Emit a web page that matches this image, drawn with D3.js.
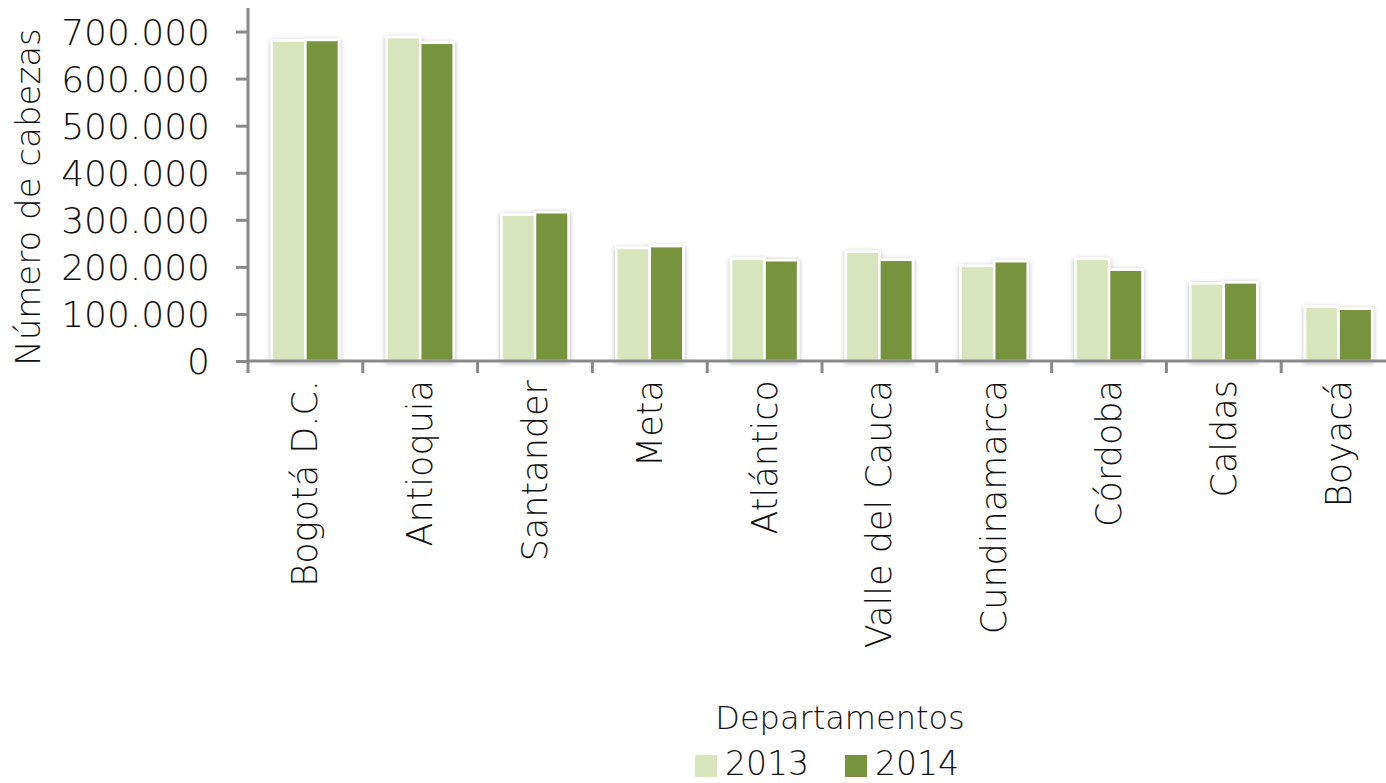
<!DOCTYPE html>
<html><head><meta charset="utf-8">
<script src="https://cdn.jsdelivr.net/npm/d3@7"></script>
<style>
body{margin:0;background:#fff;}
text{font-family:"DejaVu Sans",sans-serif;font-weight:200;fill:#111;}
</style></head>
<body>
<svg id="c" width="1386" height="783"></svg>
<script>
const categories = ["Bogotá D.C.","Antioquia","Santander","Meta","Atlántico","Valle del Cauca","Cundinamarca","Córdoba","Caldas","Boyacá"];
const seriesNames = ["2013","2014"];
const values2013 = [681000,688000,311000,240000,217000,232000,202000,217000,165000,115000];
const values2014 = [682000,676000,316000,244000,214000,215000,212000,194000,167000,111000];
const yTicks = [0,100000,200000,300000,400000,500000,600000,700000];
const colors = ["#d8e4bc","#77933c"];

(function(){
const svg = d3.select("#c");
const pLeft = 248, pRight = 1396, pTop = 8, pBottom = 361;
const x = d3.scaleBand().domain(categories).range([pLeft,pRight]);
const x1 = d3.scaleBand().domain(seriesNames).range([0,67]);
const y = d3.scaleLinear().domain([0,750000]).range([pBottom,pTop]);

const defs = svg.append("defs");
const f = defs.append("filter").attr("id","sh").attr("x","-30%").attr("y","-10%").attr("width","160%").attr("height","120%");
f.append("feDropShadow").attr("dx",0).attr("dy",1).attr("stdDeviation",2.5).attr("flood-color","#000").attr("flood-opacity",0.3);

const data = categories.map((c,i)=>({c, v:[values2013[i],values2014[i]]}));
const g = svg.append("g");
data.forEach(d=>{
  const gx = x(d.c) + (x.bandwidth()-67)/2;
  const grp = g.append("g").attr("filter","url(#sh)");
  seriesNames.forEach((s,j)=>{
    grp.append("rect")
      .attr("x", gx + x1(s)).attr("y", y(d.v[j]))
      .attr("width", x1.bandwidth()).attr("height", pBottom - y(d.v[j]))
      .attr("fill", colors[j]).attr("stroke","#fff").attr("stroke-width",2.5);
  });
});

// y axis
const yAxis = d3.axisLeft(y).tickValues(yTicks).tickSize(12).tickPadding(26)
  .tickFormat(d=> d===0 ? "0" : d3.format(",")(d).replace(/,/g,"."));
const ya = svg.append("g").attr("transform",`translate(${pLeft},0)`).call(yAxis);
ya.select(".domain").attr("stroke","#898989").attr("stroke-width",3).attr("d",`M0,${pTop}V${pBottom}`);
ya.selectAll(".tick line").attr("stroke","#898989").attr("stroke-width",3);
ya.selectAll(".tick text").style("font-size","36px").attr("dy","0.36em").style("fill","#111")
  .style("font-family","DejaVu Sans").style("font-weight","200");

// x axis
const xa = svg.append("g").attr("transform",`translate(0,${pBottom})`);
xa.append("line").attr("x1",pLeft).attr("x2",pRight).attr("y1",0).attr("y2",0).attr("stroke","#898989").attr("stroke-width",3);
const bounds = categories.map(c=>x(c)).concat([pRight]);
xa.selectAll(".tk").data(bounds).enter().append("line")
  .attr("x1",d=>d).attr("x2",d=>d).attr("y1",0).attr("y2",12)
  .attr("stroke","#898989").attr("stroke-width",3);
xa.selectAll(".lbl").data(categories).enter().append("text")
  .attr("transform",d=>`translate(${x(d)+x.bandwidth()/2+12},19) rotate(-90)`)
  .attr("text-anchor","end").style("font-size","35px").text(d=>d);

// axis titles
svg.append("text").attr("transform","translate(40,197) rotate(-90)").attr("text-anchor","middle")
  .style("font-size","34px").text("Número de cabezas");
svg.append("text").attr("x",840).attr("y",729).attr("text-anchor","middle")
  .style("font-size","32px").text("Departamentos");

// legend
const leg = svg.append("g");
const lx = [695,845];
seriesNames.forEach((s,i)=>{
  leg.append("rect").attr("x",lx[i]).attr("y",755).attr("width",22).attr("height",22).attr("fill",colors[i]);
  leg.append("text").attr("x",lx[i]+30).attr("y",775).style("font-size","33px").text(s);
});
})();
</script>
</body></html>
